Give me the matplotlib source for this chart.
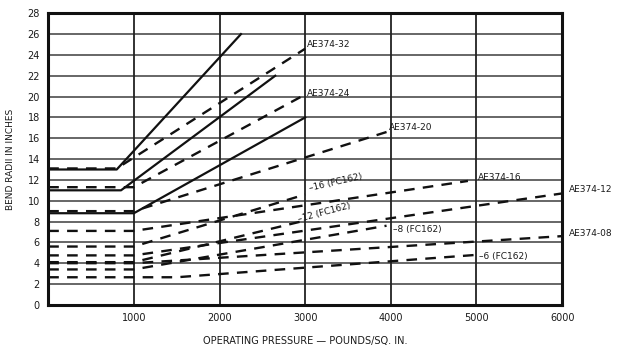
import numpy as np
import matplotlib.pyplot as plt

# solid lines (unlabelled)
solid_a_x = [0, 800, 2250]
solid_a_y = [13.0, 13.0, 26.0]
solid_b_x = [0, 850, 2650]
solid_b_y = [11.0, 11.0, 22.0]
solid_c_x = [0, 1000, 3000]
solid_c_y = [8.8, 8.8, 18.0]

# AE374 dashed lines
ae32_x = [0, 800, 3000]
ae32_y = [13.1, 13.1, 24.6]
ae24_x = [0, 1000, 3000]
ae24_y = [11.3, 11.3, 20.2]
ae20_x = [0, 1000, 3950]
ae20_y = [9.0, 9.0, 16.6]
ae16_x = [0, 1000, 4900]
ae16_y = [7.1, 7.1, 11.9]
ae12_x = [0, 1000, 6000]
ae12_y = [4.75, 4.75, 10.7]
ae08_x = [0, 1000, 6000]
ae08_y = [4.0, 4.0, 6.6]

# FC162 dashed lines
fc16_x = [0, 1000, 3000]
fc16_y = [5.6, 5.6, 10.6]
fc12_x = [0, 1000, 3000]
fc12_y = [4.1, 4.1, 8.1]
fc8_x = [0, 1000, 3950]
fc8_y = [3.4, 3.4, 7.6]
fc6_x = [0, 1500, 5000]
fc6_y = [2.65, 2.65, 4.8]

x_ticks = [1000, 2000, 3000, 4000, 5000, 6000]
y_ticks = list(range(0, 29, 2))

plt.rcParams['font.family'] = 'DejaVu Sans'
fig = plt.figure(figsize=(6.26, 3.5), dpi=100)
ax = fig.add_axes([0.077, 0.129, 0.821, 0.833])

# grid
for yv in y_ticks:
    ax.axhline(yv, color='#666666', lw=1.4, zorder=1)
for xv in x_ticks:
    ax.axvline(xv, color='#222222', lw=1.3, zorder=1)

dash = (0, (4.5, 3.5))
for xs, ys in [(solid_a_x, solid_a_y), (solid_b_x, solid_b_y), (solid_c_x, solid_c_y)]:
    ax.plot(xs, ys, color='#111111', lw=1.6, zorder=3)
for xs, ys in [(ae32_x, ae32_y), (ae24_x, ae24_y), (ae20_x, ae20_y), (ae16_x, ae16_y),
               (ae12_x, ae12_y), (ae08_x, ae08_y), (fc16_x, fc16_y), (fc12_x, fc12_y),
               (fc8_x, fc8_y), (fc6_x, fc6_y)]:
    ax.plot(xs, ys, color='#111111', lw=1.7, ls=dash, zorder=3, clip_on=False)

tk = dict(fontsize=6.5, color='#1a1a1a', zorder=5)
ax.text(3020, 25.0, 'AE374-32', ha='left', va='center', **tk)
ax.text(3020, 20.3, 'AE374-24', ha='left', va='center', **tk)
ax.text(3980, 17.0, 'AE374-20', ha='left', va='center', **tk)
ax.text(5020, 12.2, 'AE374-16', ha='left', va='center', **tk)
ax.text(6080, 11.1, 'AE374-12', ha='left', va='center', clip_on=False, **tk)
ax.text(6080, 6.9, 'AE374-08', ha='left', va='center', clip_on=False, **tk)
ax.text(3060, 10.7, '\u201316 (FC162)', ha='left', va='bottom', rotation=13,
        rotation_mode='anchor', **tk)
ax.text(2930, 7.8, '\u201312 (FC162)', ha='left', va='bottom', rotation=15,
        rotation_mode='anchor', **tk)
ax.text(4020, 7.25, '\u20138 (FC162)', ha='left', va='center', **tk)
ax.text(5030, 4.65, '\u20136 (FC162)', ha='left', va='center', **tk)

ax.set_xlim(0, 6000)
ax.set_ylim(0, 28)
ax.set_xticks(x_ticks)
ax.set_yticks(y_ticks)
ax.tick_params(length=0, labelsize=7, colors='#1a1a1a', pad=6)
for s in ax.spines.values():
    s.set_linewidth(2.2)
    s.set_color('#111111')

ax.set_xlabel('OPERATING PRESSURE \u2014 POUNDS/SQ. IN.', fontsize=7, color='#1a1a1a', labelpad=9)
ax.set_ylabel('BEND RADII IN INCHES', fontsize=6.5, color='#1a1a1a', labelpad=9)

plt.savefig('out.png', dpi=100)
